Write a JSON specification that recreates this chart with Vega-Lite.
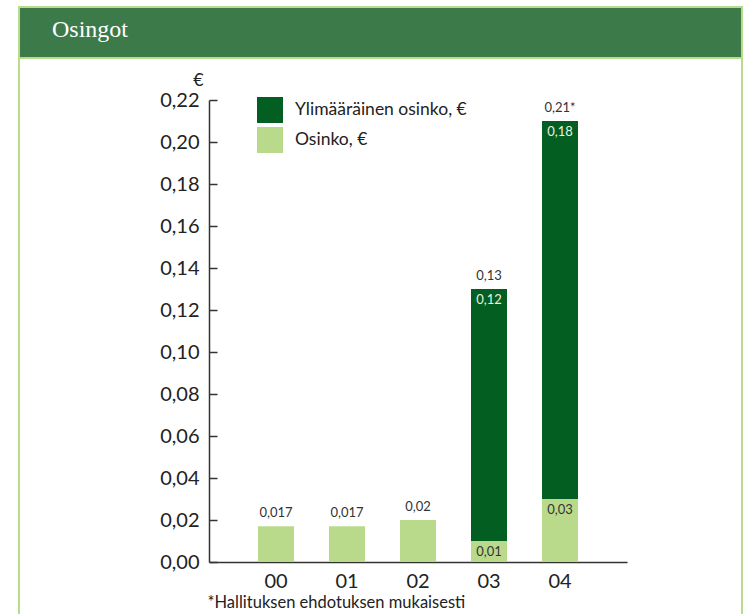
{
  "$schema": "https://vega.github.io/schema/vega-lite/v6.json",
  "padding": {"left": 18, "top": 6, "right": 0, "bottom": 0},
  "background": "white",
  "spacing": 0,
  "bounds": "flush",
  "datasets": {
    "segments": [
      {"year": "00", "series": "Osinko, €", "value": 0.017},
      {"year": "01", "series": "Osinko, €", "value": 0.017},
      {"year": "02", "series": "Osinko, €", "value": 0.02},
      {"year": "03", "series": "Osinko, €", "value": 0.01},
      {"year": "03", "series": "Ylimääräinen osinko, €", "value": 0.12},
      {"year": "04", "series": "Osinko, €", "value": 0.03},
      {"year": "04", "series": "Ylimääräinen osinko, €", "value": 0.18}
    ],
    "totals": [
      {"year": "00", "total": 0.017, "label": "0,017"},
      {"year": "01", "total": 0.017, "label": "0,017"},
      {"year": "02", "total": 0.02, "label": "0,02"},
      {"year": "03", "total": 0.13, "label": "0,13"},
      {"year": "04", "total": 0.21, "label": "0,21*"}
    ]
  },
  "vconcat": [
    {
      "width": 723,
      "height": 51,
      "view": {"fill": "#3d7a49", "stroke": "#b8dc8c", "strokeWidth": 2},
      "title": {
        "text": "Osingot",
        "anchor": "start",
        "orient": "top",
        "offset": -54,
        "dx": 33,
        "font": "Liberation Serif",
        "fontSize": 24,
        "fontWeight": "normal",
        "color": "white",
        "baseline": "alphabetic"
      },
      "data": {"values": []},
      "mark": "rect",
      "encoding": {}
    },
    {
      "width": 723,
      "height": 560,
      "view": {"fill": "white", "stroke": "#b8dc8c", "strokeWidth": 2},
      "encoding": {
        "x": {
          "field": "year",
          "type": "nominal",
          "scale": {"range": [190, 608], "paddingInner": 0.493, "paddingOuter": 0.69},
          "axis": {
            "orient": "bottom",
            "offset": -56,
            "ticks": false,
            "labelAngle": 0,
            "labelFontSize": 20,
            "labelFont": "Lato",
            "labelColor": "#222222",
            "labelPadding": 9,
            "domainColor": "#333333",
            "domainWidth": 1.5,
            "title": "*Hallituksen ehdotuksen mukaisesti",
            "titleFont": "Lato",
            "titleFontSize": 16.5,
            "titleFontWeight": "normal",
            "titleColor": "#222222",
            "titleAlign": "left",
            "titleBaseline": "top",
            "titleX": 188,
            "titleY": 32
          }
        }
      },
      "layer": [
        {
          "data": {"name": "segments"},
          "mark": {"type": "bar"},
          "encoding": {
            "y": {
              "field": "value",
              "type": "quantitative",
              "stack": "zero",
              "scale": {"domain": [0, 0.22], "range": [504, 42], "nice": false, "zero": true},
              "axis": {
                "orient": "left",
                "offset": -190,
                "values": [0, 0.02, 0.04, 0.06, 0.08, 0.1, 0.12, 0.14, 0.16, 0.18, 0.2, 0.22],
                "format": ".2f",
                "grid": false,
                "tickSize": -8,
                "tickColor": "#333333",
                "tickWidth": 1.5,
                "labelPadding": 18,
                "labelFontSize": 20,
                "labelFont": "Lato",
                "labelColor": "#222222",
                "domainColor": "#333333",
                "domainWidth": 1.5,
                "title": "€",
                "titleAngle": 0,
                "titleFont": "Lato",
                "titleFontSize": 18,
                "titleFontWeight": "normal",
                "titleColor": "#222222",
                "titleAlign": "center",
                "titleBaseline": "middle",
                "titleX": -11,
                "titleY": 22
              }
            },
            "color": {
              "field": "series",
              "type": "nominal",
              "scale": {
                "domain": ["Ylimääräinen osinko, €", "Osinko, €"],
                "range": ["#035e22", "#b9da8b"]
              },
              "legend": {
                "orient": "none",
                "legendX": 238,
                "legendY": 90,
                "title": null,
                "symbolType": "square",
                "symbolSize": 676,
                "symbolStrokeWidth": 0,
                "symbolOpacity": 1,
                "labelFont": "Lato",
                "labelFontSize": 17.5,
                "labelColor": "#222222",
                "labelOffset": 12,
                "labelLimit": 400,
                "rowPadding": 4,
                "padding": 0
              }
            },
            "order": {"field": "series", "sort": "ascending"}
          }
        },
        {
          "data": {"name": "segments"},
          "transform": [{"filter": "datum.year == '03' || datum.year == '04'"}],
          "mark": {"type": "text", "baseline": "top", "dy": 5, "font": "Lato", "fontSize": 13},
          "encoding": {
            "y": {"field": "value", "type": "quantitative", "stack": "zero"},
            "detail": {"field": "series"},
            "order": {"field": "series", "sort": "ascending"},
            "text": {"field": "value", "type": "quantitative", "format": ".2f"},
            "color": {
              "condition": {"test": "datum.series == 'Osinko, €'", "value": "#333333"},
              "value": "#e8f2e4"
            }
          }
        },
        {
          "data": {"name": "totals"},
          "mark": {"type": "text", "baseline": "bottom", "dy": -6, "font": "Lato", "fontSize": 13, "color": "#333333"},
          "encoding": {
            "y": {"field": "total", "type": "quantitative"},
            "text": {"field": "label", "type": "nominal"}
          }
        }
      ]
    }
  ],
  "config": {
    "locale": {
      "number": {"decimal": ",", "thousands": " ", "grouping": [3], "currency": ["", " €"]}
    }
  }
}
